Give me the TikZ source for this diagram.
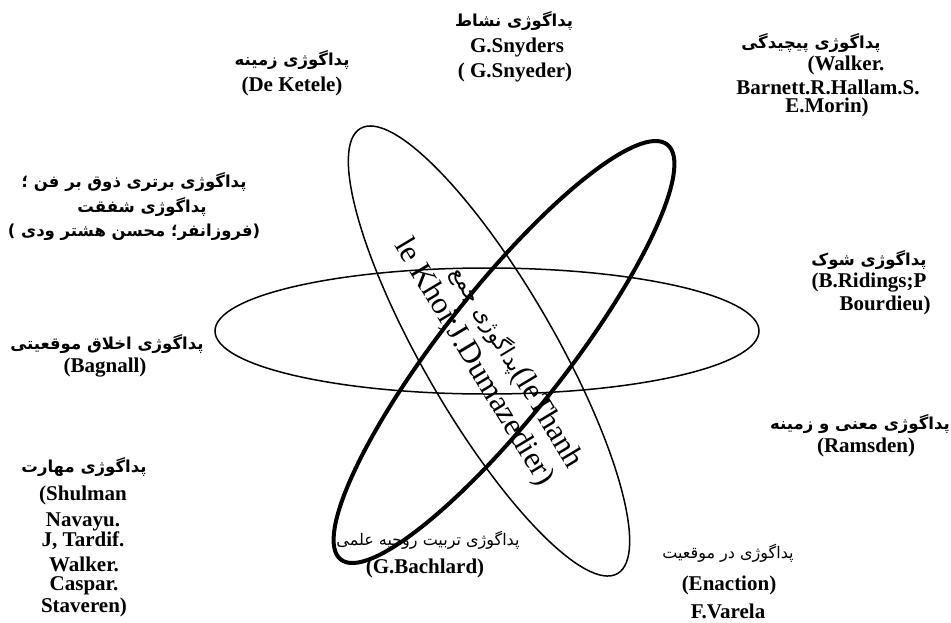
\documentclass[tikz,border=0pt]{standalone}
\usepackage{fontspec}
\setmainfont{Liberation Serif}
\newfontfamily\fafont[Script=Arabic]{DejaVu Sans}
\TeXXeTstate=1
\newcommand\fab[1]{{\fafont\bfseries\fontsize{16.5}{25}\selectfont\beginR #1\endR}}
\newcommand\far[1]{{\fafont\fontsize{16}{25}\selectfont\beginR #1\endR}}
\begin{document}
\begin{tikzpicture}[x=1pt,y=-1pt,
  lat/.style={font=\bfseries\fontsize{21}{25}\selectfont, inner sep=0pt},
  per/.style={inner sep=0pt},
  orbit/.style={draw, line width=1.5pt},
  thickorbit/.style={draw, line width=4pt}]
\useasboundingbox (0,0) rectangle (951,622);
\fill[white] (0,0) rectangle (951,622);
% orbits
\draw[orbit] (487,331) ellipse [x radius=272, y radius=63];
\draw[orbit, rotate around={-60:(489,351)}] (489,351) ellipse [x radius=257, y radius=66];
\draw[thickorbit, rotate around={51.8:(504,352)}] (504,352) ellipse [x radius=264, y radius=62];
% centre text
\node[rotate=-59, align=right, inner sep=0pt, font=\fontsize{31}{34}\selectfont] (c) at (488,354)
  {{\fafont\fontsize{22}{34}\selectfont\beginR پداگوژی جمع\endR}(leThanh\\le Khoi;J.Dumazedier)};
% labels
\node[per] (zA) at (292,60) {\fab{پداگوژی زمینه}};
\node[lat] (zB) at (292,86) {(De Ketele)};
\node[per] (nA) at (514,21) {\fab{پداگوژی نشاط}};
\node[lat] (nB) at (517,47) {G.Snyders};
\node[lat] (nC) at (515,72) {( G.Snyeder)};
\node[per] (pA) at (811,43) {\fab{پداگوژی پیچیدگی}};
\node[lat] (pB) at (846,65) {(Walker.};
\node[lat] (pC) at (828,87) {Barnett.R.Hallam.S.};
\node[lat] (pD) at (827,107) {E.Morin)};
\node[per] (bA) at (134,182) {\fab{پداگوژی برتری ذوق بر فن ؛}};
\node[per] (bB) at (142,207) {\fab{پداگوژی شفقت}};
\node[per] (bC) at (134,232) {\fab{(فروزانفر؛ محسن هشتر ودی )}};
\node[per] (aA) at (107,344) {\fab{پداگوژی اخلاق موقعیتی}};
\node[lat] (aB) at (105,368) {(Bagnall)};
\node[per] (mA) at (84,467) {\fab{پداگوژی مهارت}};
\node[lat] (mB) at (83,495) {(Shulman};
\node[lat] (mC) at (83,522) {Navayu.};
\node[lat] (mD) at (83,541) {J, Tardif.};
\node[lat] (mE) at (84,564) {Walker.};
\node[lat] (mF) at (84,586) {Caspar.};
\node[lat] (mG) at (84,607) {Staveren)};
\node[per] (sA) at (869,260) {\fab{پداگوژی شوک}};
\node[lat] (sB) at (869,283) {(B.Ridings;P};
\node[lat] (sC) at (885,305) {Bourdieu)};
\node[per] (rA) at (860,424) {\fab{پداگوژی معنی و زمینه}};
\node[lat] (rB) at (866,447) {(Ramsden)};
\node[per] (gA) at (428,540) {\far{پداگوژی تربیت روحیه علمی}};
\node[lat] (gB) at (425,568) {(G.Bachlard)};
\node[per] (eA) at (728,553) {\far{پداگوژی در موقعیت}};
\node[lat] (eB) at (729,585) {(Enaction)};
\node[lat] (eC) at (728,611) {F.Varela};
\end{tikzpicture}
\end{document}
